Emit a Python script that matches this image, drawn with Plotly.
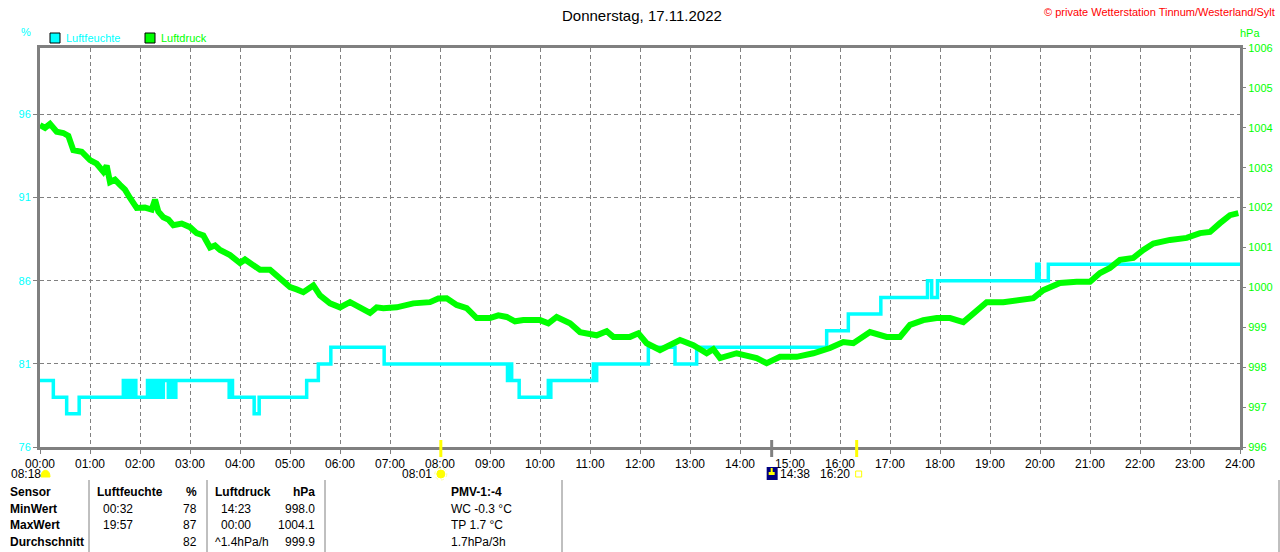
import pandas as pd
import plotly.graph_objects as go

DAY = "2022-11-17"

# Luftfeuchte in %, Stufen: Zeitpunkt -> neuer Wert
hum_time = ["00:00", "00:16", "00:32", "00:47", "01:40", "01:43", "01:46", "01:49", "01:52", "01:55",
            "02:09", "02:12", "02:15", "02:18", "02:21", "02:24", "02:28", "02:34", "02:37", "02:40",
            "02:43", "02:46", "03:47", "03:49", "03:51", "04:17", "04:23", "05:20", "05:34", "05:49",
            "06:53", "09:21", "09:23", "09:26", "09:35", "10:10", "10:11", "10:13", "11:04", "11:06",
            "11:08", "11:11", "12:10", "12:42", "13:08", "15:44", "16:10", "16:49", "17:45", "17:50",
            "17:57", "19:56", "19:59", "20:10", "24:00"]
hum_val = [80, 79, 78, 79, 80, 79, 80, 79, 80, 79,
           80, 79, 80, 79, 80, 79, 80, 79, 80, 79,
           80, 80, 79, 80, 79, 78, 79, 80, 81, 82,
           81, 80, 81, 80, 79, 80, 79, 80, 81, 80,
           81, 81, 82, 81, 82, 83, 84, 85, 86, 85,
           86, 87, 86, 87, 87]

# Luftdruck in hPa
pres_time = ["00:00", "00:06", "00:12", "00:20", "00:28", "00:34", "00:40", "00:50", "01:00", "01:08",
             "01:16", "01:20", "01:24", "01:30", "01:36", "01:42", "01:48", "01:56", "02:06", "02:14",
             "02:18", "02:22", "02:28", "02:34", "02:40", "02:50", "03:00", "03:08", "03:16", "03:24",
             "03:30", "03:36", "03:48", "04:00", "04:06", "04:12", "04:24", "04:36", "04:48", "05:00",
             "05:08", "05:16", "05:28", "05:36", "05:48", "06:00", "06:12", "06:20", "06:28", "06:36",
             "06:44", "06:52", "07:08", "07:28", "07:48", "07:58", "08:08", "08:20", "08:32", "08:44",
             "09:00", "09:10", "09:20", "09:30", "09:40", "10:00", "10:10", "10:20", "10:36", "10:48",
             "11:08", "11:20", "11:28", "11:48", "11:58", "12:08", "12:24", "12:36", "12:48", "13:04",
             "13:20", "13:28", "13:36", "13:56", "14:08", "14:20", "14:32", "14:48", "15:08", "15:28",
             "15:48", "16:04", "16:16", "16:36", "16:56", "17:12", "17:24", "17:40", "17:56", "18:12",
             "18:28", "18:40", "18:56", "19:16", "19:36", "19:52", "20:04", "20:24", "20:44", "21:00",
             "21:12", "21:24", "21:36", "21:52", "22:04", "22:16", "22:36", "22:56", "23:12", "23:24",
             "23:36", "23:48", "23:58"]
pres_val = [1004.07, 1004.00, 1004.10, 1003.90, 1003.87, 1003.80, 1003.44, 1003.40, 1003.19, 1003.10,
            1002.90, 1003.05, 1002.64, 1002.70, 1002.57, 1002.45, 1002.24, 1001.99, 1002.00, 1001.95,
            1002.20, 1001.90, 1001.76, 1001.70, 1001.56, 1001.60, 1001.51, 1001.36, 1001.30, 1001.00,
            1001.05, 1000.94, 1000.81, 1000.61, 1000.70, 1000.61, 1000.44, 1000.44, 1000.24, 1000.01,
            999.95, 999.88, 1000.05, 999.80, 999.60, 999.50, 999.63, 999.55, 999.48, 999.36,
            999.50, 999.48, 999.50, 999.60, 999.63, 999.72, 999.73, 999.56, 999.48, 999.23,
            999.23, 999.30, 999.26, 999.15, 999.18, 999.18, 999.10, 999.26, 999.10, 998.88,
            998.80, 998.90, 998.76, 998.76, 998.85, 998.60, 998.43, 998.55, 998.68, 998.55,
            998.35, 998.45, 998.23, 998.35, 998.30, 998.23, 998.10, 998.26, 998.26, 998.35,
            998.48, 998.63, 998.60, 998.88, 998.76, 998.76, 999.06, 999.18, 999.23, 999.23,
            999.13, 999.36, 999.63, 999.63, 999.68, 999.73, 999.93, 1000.11, 1000.14, 1000.14,
            1000.36, 1000.49, 1000.69, 1000.74, 1000.94, 1001.10, 1001.19, 1001.24, 1001.36, 1001.39,
            1001.61, 1001.81, 1001.86]

hour_labels = ["%02d:00" % h for h in range(25)]
hum_ticks = [76, 81, 86, 91, 96]
pres_ticks = list(range(996, 1007))

# Sonnenaufgang, Mond, Sonnenuntergang
sunrise = "08:01"
moon = "14:38"
sunset = "16:20"
moon_left = "08:18"

# Tabelle unten
table_rows = ["Sensor", "MinWert", "MaxWert", "Durchschnitt"]
hum_times = ["00:32", "19:57", ""]
hum_stats = ["78", "87", "82"]
pres_times = ["14:23", "00:00", ""]
pres_stats = ["998.0", "1004.1", "999.9"]
pres_trend = "^1.4hPa/h"
pmv_lines = ["PMV-1:-4", "WC -0.3 °C", "TP 1.7 °C", "1.7hPa/3h"]

CYAN = "#00FFFF"
GREEN = "#00FF00"
YELLOW = "#FFFF00"
GREY = "#808080"
FONT = "Liberation Sans"


def to_dt(t):
    h, m = t.split(":")
    return pd.Timestamp(DAY) + pd.Timedelta(hours=int(h), minutes=int(m))


# pixel -> paper helpers (plot area: x 40..1240, y 48..447)
def px(x):
    return (x - 40) / 1200


def py(y):
    return (447 - y) / 399


fig = go.Figure()

fig.add_trace(go.Scatter(x=[to_dt(t) for t in pres_time], y=pres_val, yaxis="y2", mode="lines",
                         line=dict(color=GREEN, width=6), name="Luftdruck", showlegend=False))
fig.add_trace(go.Scatter(x=[to_dt(t) for t in hum_time], y=hum_val, mode="lines",
                         line=dict(color=CYAN, width=3.5, shape="hv"), name="Luftfeuchte", showlegend=False))

fig.update_layout(
    width=1280, height=552,
    margin=dict(l=40, r=40, t=48, b=105),
    paper_bgcolor="white", plot_bgcolor="white",
    font=dict(family=FONT, size=11, color="black"),
    xaxis=dict(range=[to_dt("00:00"), to_dt("24:00")], tickvals=[to_dt(t) for t in hour_labels],
               ticktext=hour_labels, ticks="outside", ticklen=4, tickcolor=GREY, automargin=False,
               showgrid=True, gridcolor=GREY, griddash="4px,3px", gridwidth=1,
               showline=True, linecolor=GREY, linewidth=3, mirror=True, zeroline=False,
               tickfont=dict(family=FONT, size=12, color="black")),
    yaxis=dict(range=[76, 100], tickvals=hum_ticks, ticks="outside", ticklen=4, tickcolor=GREY,
               showgrid=True, gridcolor=GREY, griddash="4px,3px", gridwidth=1, automargin=False,
               showline=True, linecolor=GREY, linewidth=3, mirror=True, zeroline=False,
               tickfont=dict(family=FONT, size=11, color=CYAN)),
    yaxis2=dict(range=[996, 1006], tickvals=pres_ticks, overlaying="y", side="right",
                ticks="outside", ticklen=5, tickcolor=GREY, showgrid=False, zeroline=False,
                showline=False, automargin=False, tickfont=dict(family=FONT, size=11, color=GREEN)),
)

ann = []
shapes = []

# Titel und Kopfzeile
ann.append(dict(text="Donnerstag, 17.11.2022", x=px(642), y=py(15), font=dict(size=15)))
ann.append(dict(text="© private Wetterstation Tinnum/Westerland/Sylt", x=px(1277), y=py(12),
                xanchor="right", font=dict(size=11, color="#FF0000")))
ann.append(dict(text="%", x=px(26), y=py(32), font=dict(size=11, color=CYAN)))
ann.append(dict(text="hPa", x=px(1250), y=py(33), font=dict(size=11, color=GREEN)))

# Legende
for x0, col, label in [(50, CYAN, "Luftfeuchte"), (145, GREEN, "Luftdruck")]:
    shapes.append(dict(type="rect", xref="paper", yref="paper", x0=px(x0), x1=px(x0 + 10),
                       y0=py(43), y1=py(33), fillcolor=col, line=dict(color="black", width=1)))
    ann.append(dict(text=label, x=px(x0 + 14), y=py(38), xanchor="left", font=dict(size=11, color=col)))

# Marken an der Zeitachse
for t, col in [(sunrise, YELLOW), (moon, GREY), (sunset, YELLOW)]:
    shapes.append(dict(type="line", xref="x", yref="paper", x0=to_dt(t), x1=to_dt(t),
                       y0=py(440), y1=py(457), line=dict(color=col, width=3)))


def icon(t, kind, dx0, dx1, y0, y1, **kw):
    # kleines Symbol neben einer Zeitmarke, Breite in Pixeln
    d = dict(type=kind, xref="x", xsizemode="pixel", xanchor=to_dt(t), x0=dx0, x1=dx1,
             yref="paper", y0=py(y1), y1=py(y0))
    d.update(kw)
    shapes.append(d)


# Mond links unten
ann.append(dict(text=moon_left, x=px(9), y=py(474), xanchor="left", font=dict(size=12)))
shapes.append(dict(type="path", xref="paper", yref="paper",
                   path="M %f,%f C %f,%f %f,%f %f,%f Z" % (px(41), py(477), px(41), py(468),
                                                            px(50), py(468), px(50), py(477)),
                   fillcolor=YELLOW, line=dict(color=YELLOW, width=1)))

# Sonnenaufgang
ann.append(dict(text=sunrise, x=to_dt(sunrise), xref="x", y=py(474), xanchor="right", xshift=-7,
                font=dict(size=12)))
icon(sunrise, "circle", -4, 4, 470, 478, fillcolor=YELLOW, line=dict(color=YELLOW, width=1))
icon(sunrise, "circle", -6, 6, 468, 480, line=dict(color="#FFFF99", width=1, dash="dot"))

# Mond
icon(moon, "rect", -5, 6, 467, 480, fillcolor="#000080", line=dict(width=0))
icon(moon, "line", 0, 0, 468, 475, line=dict(color=YELLOW, width=2))
icon(moon, "rect", -3, 3, 472, 475, fillcolor=YELLOW, line=dict(width=0))
ann.append(dict(text=moon, x=to_dt(moon), xref="x", y=py(474), xanchor="left", xshift=6,
                font=dict(size=12)))

# Sonnenuntergang
ann.append(dict(text=sunset, x=to_dt(sunset), xref="x", y=py(474), xanchor="right", xshift=-5,
                font=dict(size=12)))
icon(sunset, "rect", -1, 5, 471, 477, line=dict(color=YELLOW, width=1))

# Tabelle
for x in [89, 207, 325, 562, 1279]:
    shapes.append(dict(type="line", xref="paper", yref="paper", x0=px(x), x1=px(x),
                       y0=py(480), y1=py(552), line=dict(color=GREY, width=1)))

row_y = [492, 509, 525, 542]
bold = dict(size=12, color="black")
for label, yy in zip(table_rows, row_y):
    ann.append(dict(text="<b>%s</b>" % label, x=px(8), y=py(yy), xanchor="left", font=bold))
ann.append(dict(text="<b>Luftfeuchte</b>", x=px(95), y=py(row_y[0]), xanchor="left", font=bold))
ann.append(dict(text="<b>%</b>", x=px(199), y=py(row_y[0]), xanchor="right", font=bold))
ann.append(dict(text="<b>Luftdruck</b>", x=px(213), y=py(row_y[0]), xanchor="left", font=bold))
ann.append(dict(text="<b>hPa</b>", x=px(317), y=py(row_y[0]), xanchor="right", font=bold))
ann.append(dict(text="<b>%s</b>" % pmv_lines[0], x=px(449), y=py(row_y[0]), xanchor="left", font=bold))

for i, yy in enumerate(row_y[1:]):
    ann.append(dict(text=hum_times[i], x=px(101), y=py(yy), xanchor="left", font=dict(size=12)))
    ann.append(dict(text=hum_stats[i], x=px(199), y=py(yy), xanchor="right", font=dict(size=12)))
    ptxt = pres_times[i] if pres_times[i] else pres_trend
    pxx = 219 if pres_times[i] else 213
    ann.append(dict(text=ptxt, x=px(pxx), y=py(yy), xanchor="left", font=dict(size=12)))
    ann.append(dict(text=pres_stats[i], x=px(317), y=py(yy), xanchor="right", font=dict(size=12)))
    ann.append(dict(text=pmv_lines[i + 1], x=px(449), y=py(yy), xanchor="left", font=dict(size=12)))

for a in ann:
    a.setdefault("xref", "paper")
    a.setdefault("yref", "paper")
    a.setdefault("showarrow", False)
    a.setdefault("yanchor", "middle")
    a.setdefault("xanchor", "center")

fig.update_layout(annotations=ann, shapes=shapes)

# Seite ohne Rand und ohne Scrollbalken, damit die Grafik genau ins Fenster passt
fig.write_html("out.html", config={"displayModeBar": False},
               post_script="document.body.style.margin='0';document.body.style.overflow='hidden';"
                           "document.documentElement.style.overflow='hidden';")
